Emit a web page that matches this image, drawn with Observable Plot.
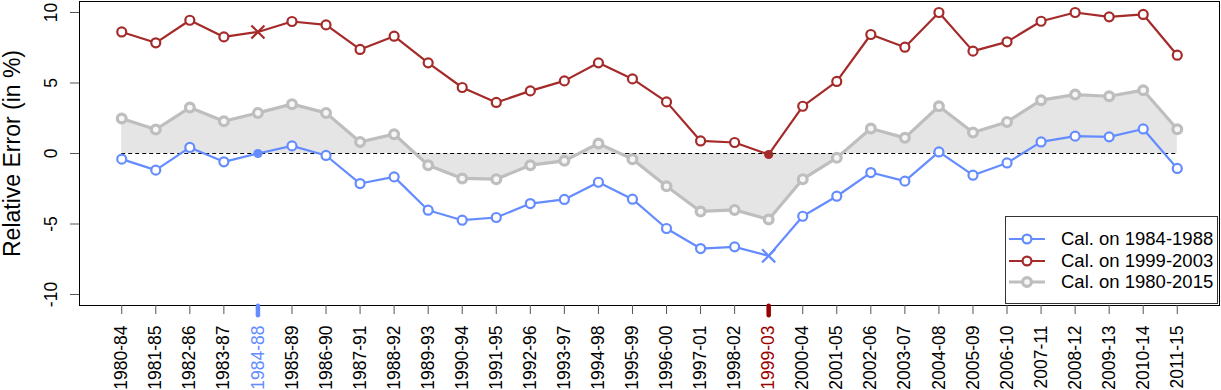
<!DOCTYPE html>
<html>
<head>
<meta charset="utf-8">
<script src="https://cdn.jsdelivr.net/npm/d3@7"></script>
<script src="https://cdn.jsdelivr.net/npm/@observablehq/plot@0.6"></script>
<style>
  html, body { margin: 0; padding: 0; background: #fff; }
  #wrap { position: relative; width: 1221px; height: 390px; overflow: hidden; font-family: "Liberation Sans", Arial, sans-serif; }
  #legend { position: absolute; left: 1005px; top: 216px; width: 213px; height: 88px; border: 1px solid #333; background: #fff; box-sizing: border-box; }
  .lrow { position: absolute; left: 0; height: 22px; display: flex; align-items: center; font-size: 18.5px; color: #000; white-space: nowrap; }
  .lrow svg { margin-left: 2px; margin-right: 15px; }
</style>
</head>
<body>
<div id="wrap"></div>
<script>
const labels = ["1980-84","1981-85","1982-86","1983-87","1984-88","1985-89","1986-90","1987-91","1988-92","1989-93","1990-94","1991-95","1992-96","1993-97","1994-98","1995-99","1996-00","1997-01","1998-02","1999-03","2000-04","2001-05","2002-06","2003-07","2004-08","2005-09","2006-10","2007-11","2008-12","2009-13","2010-14","2011-15"];
const cal8488 = [-0.40,-1.18,0.43,-0.59,0,0.54,-0.14,-2.13,-1.66,-4.02,-4.73,-4.54,-3.55,-3.26,-2.04,-3.24,-5.32,-6.74,-6.62,-7.26,-4.45,-3.03,-1.35,-1.96,0.11,-1.54,-0.67,0.82,1.23,1.18,1.74,-1.06];
const cal9903 = [8.62,7.85,9.45,8.27,8.62,9.36,9.12,7.38,8.32,6.43,4.68,3.62,4.44,5.15,6.43,5.29,3.66,0.89,0.78,-0.07,3.35,5.11,8.44,7.54,10.0,7.26,7.92,9.38,10.0,9.69,9.86,6.97];
const cal8015 = [2.48,1.70,3.26,2.29,2.88,3.50,2.88,0.82,1.37,-0.83,-1.77,-1.82,-0.83,-0.52,0.71,-0.40,-2.32,-4.11,-4.00,-4.68,-1.82,-0.31,1.77,1.11,3.35,1.49,2.24,3.78,4.18,4.06,4.49,1.72];
const yTicks = [-10,-5,0,5,10];
const seriesNames = ["Cal. on 1984-1988","Cal. on 1999-2003","Cal. on 1980-2015"];
const calBlue = "1984-88";
const calRed = "1999-03";

const BLUE = "#648cff", RED = "#a52a2a", GRAY = "#bebebe", AREA = "#e5e5e5";
const n = labels.length;
const rows = labels.map((label, i) => ({i, label, blue: cal8488[i], red: cal9903[i], gray: cal8015[i]}));
const iBlue = labels.indexOf(calBlue), iRed = labels.indexOf(calRed);
const yDomain = [-10.78, 10.78];
const hl = [{i: iBlue, c: BLUE}, {i: iRed, c: "#990000"}];
const labelColor = (d) => d.i === iBlue ? BLUE : d.i === iRed ? "#990000" : "#000";

const chart = Plot.plot({
  width: 1221,
  height: 390,
  marginLeft: 79,
  marginRight: 2,
  marginTop: 1,
  marginBottom: 85,
  style: {fontFamily: '"Liberation Sans", Arial, sans-serif', fontSize: "17.5px", background: "transparent", overflow: "visible"},
  x: {type: "linear", domain: [-1.24, n - 1 + 1.24]},
  y: {type: "linear", domain: yDomain},
  marks: [
    Plot.areaY(rows, {x: "i", y1: 0, y2: "gray", fill: AREA}),
    Plot.ruleY([0], {x1: 0, x2: n - 1, stroke: "#000", strokeWidth: 1, strokeDasharray: "4,3"}),
    Plot.lineY(rows, {x: "i", y: "gray", stroke: GRAY, strokeWidth: 3.2}),
    Plot.dot(rows, {x: "i", y: "gray", r: 4.4, stroke: GRAY, strokeWidth: 3.2, fill: "#f6f6f6"}),
    Plot.lineY(rows, {x: "i", y: "blue", stroke: BLUE, strokeWidth: 2.2}),
    Plot.dot(rows.filter(d => d.i !== iBlue && d.i !== iRed), {x: "i", y: "blue", r: 4.5, stroke: BLUE, strokeWidth: 2.2, fill: "white"}),
    Plot.dot(rows.filter(d => d.i === iBlue), {x: "i", y: "blue", r: 4.6, fill: BLUE, stroke: "none"}),
    Plot.dot(rows.filter(d => d.i === iRed), {x: "i", y: "blue", r: 6, symbol: "times", stroke: BLUE, strokeWidth: 2.2}),
    Plot.lineY(rows, {x: "i", y: "red", stroke: RED, strokeWidth: 2.2}),
    Plot.dot(rows.filter(d => d.i !== iBlue && d.i !== iRed), {x: "i", y: "red", r: 4.5, stroke: RED, strokeWidth: 2.2, fill: "white"}),
    Plot.dot(rows.filter(d => d.i === iRed), {x: "i", y: "red", r: 4.6, fill: RED, stroke: "none"}),
    Plot.dot(rows.filter(d => d.i === iBlue), {x: "i", y: "red", r: 6, symbol: "times", stroke: RED, strokeWidth: 2.2}),
    Plot.frame({stroke: "#000", strokeWidth: 1}),
    Plot.axisX(d3.range(n), {tickSize: 9, tickFormat: () => "", stroke: "#555", label: null}),
    Plot.axisY(yTicks, {tickSize: 9, tickFormat: () => "", stroke: "#555", label: null}),
    Plot.ruleX(hl, {x: "i", y1: yDomain[0] - 0.05, y2: yDomain[0] - 0.72, stroke: "c", strokeWidth: 4.5, strokeLinecap: "round"}),
    Plot.text(rows, {x: "i", text: "label", frameAnchor: "bottom", dy: 20, rotate: -90, textAnchor: "end", lineAnchor: "middle", fill: labelColor, fontSize: 17.5}),
    Plot.text(yTicks, {y: d => d, text: d => String(d), frameAnchor: "left", dx: -28, rotate: -90, textAnchor: "middle", lineAnchor: "middle", fill: "#000", fontSize: 17.5}),
    Plot.text(["Relative Error (in %)"], {frameAnchor: "left", dx: -67, rotate: -90, textAnchor: "middle", lineAnchor: "middle", fill: "#000", fontSize: 23})
  ]
});

const wrap = document.getElementById("wrap");
wrap.appendChild(chart);

const legend = document.createElement("div");
legend.id = "legend";
const legendColors = [BLUE, RED, GRAY];
const legendWidths = [2.2, 2.2, 3.2];
seriesNames.forEach((name, k) => {
  const row = document.createElement("div");
  row.className = "lrow";
  row.style.top = (11 + k * 21.7) + "px";
  const c = legendColors[k], w = legendWidths[k];
  row.innerHTML = `<svg width="38" height="22"><line x1="1" x2="37" y1="11" y2="11" stroke="${c}" stroke-width="${w}"/><circle cx="19" cy="11" r="4.4" fill="${k === 2 ? '#f6f6f6' : 'white'}" stroke="${c}" stroke-width="${w}"/></svg><span>${name}</span>`;
  legend.appendChild(row);
});
wrap.appendChild(legend);
</script>
</body>
</html>
